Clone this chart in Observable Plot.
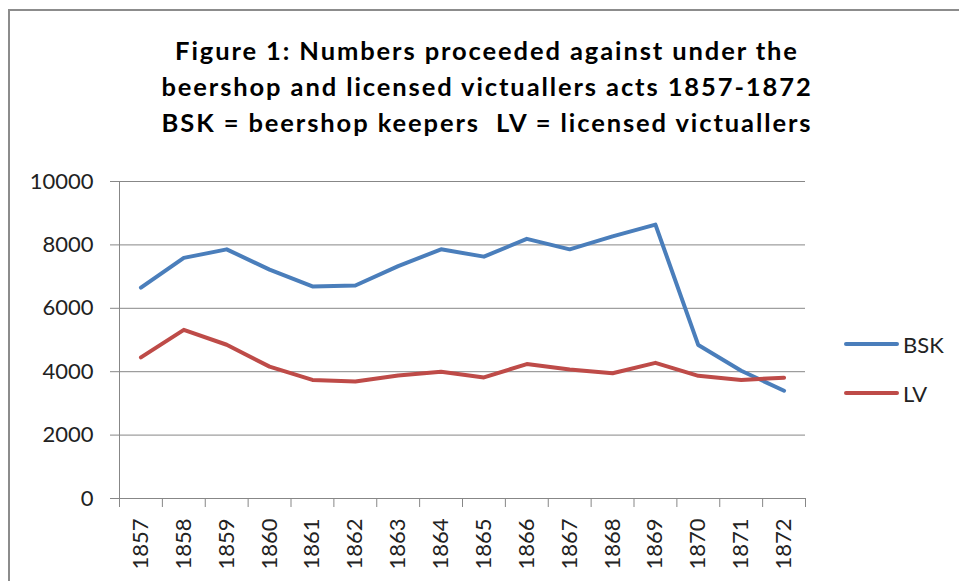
<!DOCTYPE html>
<html><head><meta charset="utf-8">
<script src="https://cdn.jsdelivr.net/npm/d3@7"></script>
<script src="https://cdn.jsdelivr.net/npm/@observablehq/plot@0.6"></script>
<style>
body{margin:0;background:#fff;}
#wrap{position:relative;width:959px;height:581px;overflow:hidden;font-family:Lato,"Open Sans",sans-serif;background:#fff;}
#frame{position:absolute;left:8px;top:9px;width:1000px;height:700px;border:2px solid #8c8c8c;box-sizing:border-box;}
#title{position:absolute;top:32px;left:487px;transform:translateX(-50%);white-space:nowrap;text-align:center;font-weight:bold;font-size:25.5px;letter-spacing:1.9px;line-height:36px;color:#000;}
#chart{position:absolute;left:0;top:0;}
.leg{position:absolute;left:844px;display:flex;align-items:center;font-size:22px;color:#222;}
.sw{width:55px;height:4px;border-radius:2px;margin-right:4px;}
</style></head>
<body>
<div id="wrap">
  <div id="frame"></div>
  <div id="chart"></div>
  <div id="title"></div>
</div>
<script>
const titleLines = [
  "Figure 1: Numbers proceeded against under the",
  "beershop and licensed victuallers acts 1857-1872",
  "BSK = beershop keepers\u00a0 LV = licensed victuallers"
];
const years = [1857,1858,1859,1860,1861,1862,1863,1864,1865,1866,1867,1868,1869,1870,1871,1872];
const bsk = [6650,7590,7860,7220,6690,6720,7330,7860,7630,8190,7860,8270,8640,4840,4030,3400];
const lv  = [4450,5320,4850,4160,3740,3690,3880,4000,3820,4240,4070,3950,4280,3870,3740,3810];
const yTicks = [0,2000,4000,6000,8000,10000];
const seriesNames = ["BSK","LV"];
const seriesColors = ["#4a7ebb","#be4b48"];

const rows = [];
years.forEach((yr,i)=>{
  rows.push({year:yr, series:"BSK", value:bsk[i]});
  rows.push({year:yr, series:"LV", value:lv[i]});
});
const boundaries = [years[0]-0.5, ...years.map(y=>y+0.5)];
const grid = "#878787";

const chart = Plot.plot({
  width:959, height:581,
  marginTop:181, marginBottom:83, marginLeft:119, marginRight:154,
  style:{background:"transparent", fontFamily:"Lato, 'Open Sans', sans-serif", fontSize:"22px", color:"#222", overflow:"visible"},
  x:{type:"linear", domain:[boundaries[0], boundaries[boundaries.length-1]]},
  y:{domain:[0,10000]},
  color:{domain:seriesNames, range:seriesColors},
  marks:[
    Plot.gridY(yTicks,{stroke:grid, strokeOpacity:1}),
    Plot.axisY(yTicks,{tickSize:9, tickPadding:17, stroke:grid, fill:"#222", label:null, tickFormat:d=>String(d)}),
    Plot.axisX(boundaries,{tickSize:9, stroke:grid, label:null, tickFormat:()=>""}),
    Plot.axisX(years,{tickSize:0, tickPadding:20, tickRotate:-90, fill:"#222", label:null, tickFormat:d=>String(d)}),
    Plot.ruleX([boundaries[0]],{stroke:grid}),
    Plot.ruleY([0],{stroke:grid}),
    Plot.line(rows,{x:"year", y:"value", z:"series", stroke:"series", strokeWidth:4, strokeLinecap:"round", strokeLinejoin:"round"})
  ]
});
document.getElementById("chart").appendChild(chart);

const t = document.getElementById("title");
titleLines.forEach(s=>{const d=document.createElement("div"); d.textContent=s; t.appendChild(d);});

const legTops = [344, 393];
seriesNames.forEach((n,i)=>{
  const d=document.createElement("div");
  d.className="leg";
  d.style.top=(legTops[i]-15)+"px";
  d.style.height="30px";
  const sw=document.createElement("div"); sw.className="sw"; sw.style.background=seriesColors[i];
  const tx=document.createElement("span"); tx.textContent=n;
  d.appendChild(sw); d.appendChild(tx);
  document.getElementById("wrap").appendChild(d);
});
</script>
</body></html>
